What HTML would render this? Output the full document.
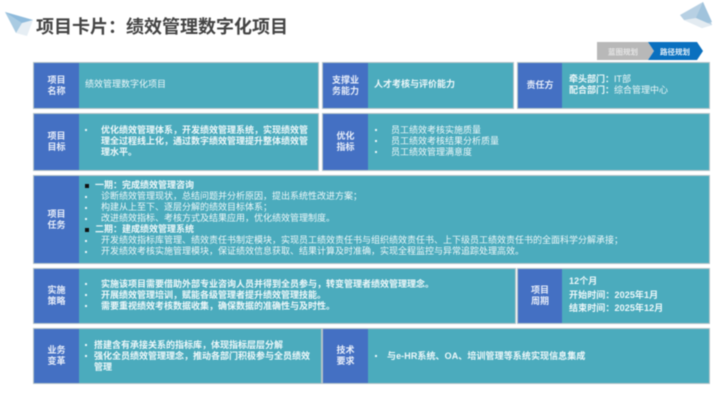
<!DOCTYPE html>
<html lang="zh"><head><meta charset="utf-8">
<style>
html,body{margin:0;padding:0;background:#fff}
#p{position:relative;width:720px;height:405px;overflow:hidden;background:#fff;font-family:"Liberation Sans","Noto Sans CJK SC",sans-serif;filter:blur(.5px)}
.a{position:absolute;box-sizing:border-box}
.t{background:#4babbd;outline:1px solid #b4c3c7}
.l{background:#4470c3;color:#e8eefa;font-size:9px;font-weight:700;line-height:11px;text-align:center;display:flex;align-items:center;justify-content:center}
.x{color:#eef8fa;font-size:9px;line-height:11px;white-space:nowrap}
.b{font-weight:700}
.d{position:absolute;width:2px;height:2px;background:#eaf7f9}
.s{position:absolute;width:4px;height:4px;background:#111}
</style></head><body><div id="p">
<svg class="a" style="left:0;top:0" width="720" height="70" viewBox="0 0 720 70">
<polygon points="5,12 33,20 16,33" fill="#a9cbe2"/><polygon points="5,12 33,20 22,23" fill="#8fbbdc"/><polygon points="33,20 22,23 16,33 27,36" fill="#e6eef4"/>
<polygon points="680,15 703,2 712,25 702,28 684,20" fill="#b7d0e3"/><polygon points="703,2 695,20 703,24 712,22" fill="#a0c3dc"/><polygon points="684,20 702,28 712,25 696,18" fill="#e3ebf1"/>
<polygon points="597,42 648,42 654,51 648,60 597,60" fill="#b8b8b8"/>
<polygon points="648,42 697,42 703,51 697,60 648,60 654,51" fill="#0a70bf"/>
<text x="608" y="54.5" font-size="7.5" font-weight="700" fill="#e4e4e4" font-family="Liberation Sans,Noto Sans CJK SC,sans-serif">蓝图规划</text>
<text x="660" y="54.5" font-size="7.5" font-weight="700" fill="#e4f0fa" font-family="Liberation Sans,Noto Sans CJK SC,sans-serif">路径规划</text>
</svg>
<div class="a" style="left:36px;top:16px;font-size:18px;line-height:22px;font-weight:700;color:#444;white-space:nowrap">项目卡片：绩效管理数字化项目</div>

<div class="a t" style="left:34px;top:63px;width:284px;height:45px"></div>
<div class="a l" style="left:34px;top:63px;width:45px;height:45px">项目<br>名称</div>
<div class="a x" style="left:85px;top:79px">绩效管理数字化项目</div>
<div class="a t" style="left:323px;top:63px;width:190px;height:45px"></div>
<div class="a l" style="left:323px;top:63px;width:45px;height:45px">支撑业<br>务能力</div>
<div class="a x b" style="left:374px;top:79px">人才考核与评价能力</div>
<div class="a t" style="left:518px;top:63px;width:191px;height:45px"></div>
<div class="a l" style="left:518px;top:63px;width:44px;height:45px">责任方</div>
<div class="a x" style="left:569px;top:74px;line-height:11px"><span class="b">牵头部门：</span>IT部<br><span class="b">配合部门：</span>综合管理中心</div>

<div class="a t" style="left:34px;top:114px;width:284px;height:56px"></div>
<div class="a l" style="left:34px;top:114px;width:45px;height:56px">项目<br>目标</div>
<i class="d" style="left:85px;top:129px"></i>
<div class="a x b" style="left:101px;top:125px">优化绩效管理体系，开发绩效管理系统，实现绩效管<br>理全过程线上化，通过数字绩效管理提升整体绩效管<br>理水平。</div>
<div class="a t" style="left:323px;top:114px;width:386px;height:56px"></div>
<div class="a l" style="left:323px;top:114px;width:45px;height:56px">优化<br>指标</div>
<i class="d" style="left:375px;top:129px"></i><i class="d" style="left:375px;top:140px"></i><i class="d" style="left:375px;top:151px"></i>
<div class="a x" style="left:391px;top:125px">员工绩效考核实施质量<br>员工绩效考核结果分析质量<br>员工绩效管理满意度</div>

<div class="a t" style="left:34px;top:176px;width:675px;height:87px"></div>
<div class="a l" style="left:34px;top:176px;width:45px;height:87px">项目<br>任务</div>
<i class="s" style="left:85px;top:184px"></i><i class="s" style="left:85px;top:228px"></i>
<i class="d" style="left:85px;top:196px"></i><i class="d" style="left:85px;top:207px"></i><i class="d" style="left:85px;top:218px"></i><i class="d" style="left:85px;top:240px"></i><i class="d" style="left:85px;top:251px"></i>
<div class="a x" style="left:95px;top:180px"><span class="b">一期：完成绩效管理咨询</span></div>
<div class="a x" style="left:101px;top:191px">诊断绩效管理现状，总结问题并分析原因，提出系统性改进方案；<br>构建从上至下、逐层分解的绩效目标体系；<br>改进绩效指标、考核方式及结果应用，优化绩效管理制度。</div>
<div class="a x" style="left:95px;top:224px"><span class="b">二期：建成绩效管理系统</span></div>
<div class="a x" style="left:101px;top:235px">开发绩效指标库管理、绩效责任书制定模块，实现员工绩效责任书与组织绩效责任书、上下级员工绩效责任书的全面科学分解承接；<br>开发绩效考核实施管理模块，保证绩效信息获取、结果计算及时准确，实现全程监控与异常追踪处理高效。</div>

<div class="a t" style="left:34px;top:269px;width:481px;height:54px"></div>
<div class="a l" style="left:34px;top:269px;width:45px;height:54px">实施<br>策略</div>
<i class="d" style="left:85px;top:283px"></i><i class="d" style="left:85px;top:294px"></i><i class="d" style="left:85px;top:305px"></i>
<div class="a x b" style="left:101px;top:279px">实施该项目需要借助外部专业咨询人员并得到全员参与，转变管理者绩效管理理念。<br>开展绩效管理培训，赋能各级管理者提升绩效管理技能。<br>需要重视绩效考核数据收集，确保数据的准确性与及时性。</div>
<div class="a t" style="left:518px;top:269px;width:191px;height:54px"></div>
<div class="a l" style="left:518px;top:269px;width:44px;height:54px">项目<br>周期</div>
<div class="a x b" style="left:569px;top:275px;line-height:13.5px;letter-spacing:.1px">12个月<br>开始时间：2025年1月<br>结束时间：2025年12月</div>

<div class="a t" style="left:34px;top:329px;width:287px;height:54px"></div>
<div class="a l" style="left:34px;top:329px;width:45px;height:54px">业务<br>变革</div>
<i class="d" style="left:85px;top:344px"></i><i class="d" style="left:85px;top:355px"></i>
<div class="a x b" style="left:94px;top:340px">搭建含有承接关系的指标库，体现指标层层分解<br>强化全员绩效管理理念，推动各部门积极参与全员绩效<br>管理</div>
<div class="a t" style="left:323px;top:329px;width:386px;height:54px"></div>
<div class="a l" style="left:323px;top:329px;width:45px;height:54px">技术<br>要求</div>
<i class="d" style="left:375px;top:355px"></i>
<div class="a x b" style="left:387px;top:351px;letter-spacing:.08px">与e-HR系统、OA、培训管理等系统实现信息集成</div>
</div></body></html>
